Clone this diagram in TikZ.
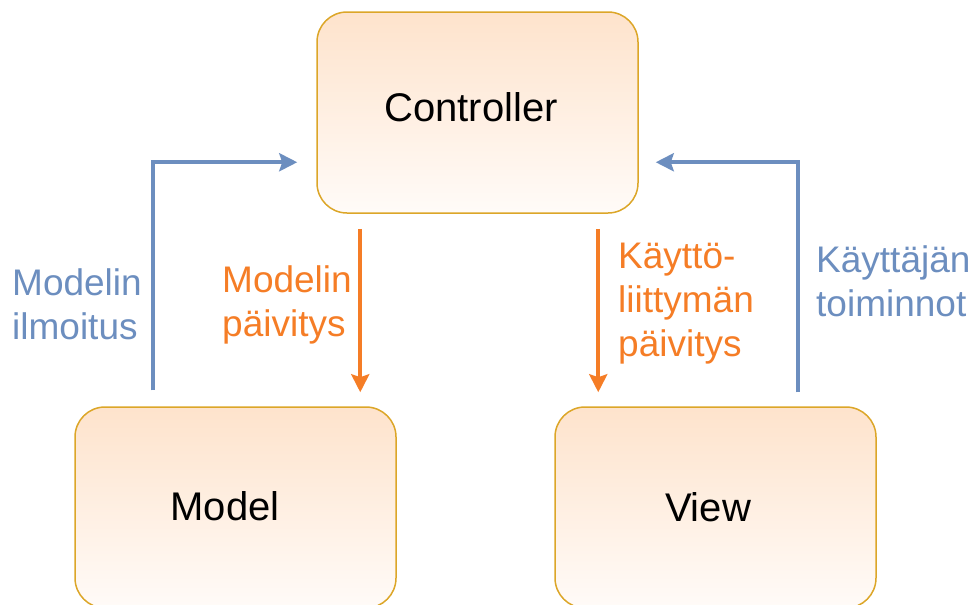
\documentclass[tikz,border=0pt]{standalone}
\usepackage{fontspec}
\setmainfont{Liberation Sans}
\usetikzlibrary{arrows.meta}
\definecolor{boxline}{RGB}{220,166,40}
\definecolor{boxtop}{RGB}{254,227,204}
\definecolor{boxbot}{RGB}{255,251,248}
\definecolor{flowblue}{RGB}{108,142,191}
\definecolor{floworange}{RGB}{245,125,38}
\begin{document}
\begin{tikzpicture}[x=1pt,y=1pt,
  box/.style={draw=boxline, line width=1.5pt, rounded corners=30pt,
    minimum width=321pt, minimum height=201pt,
    top color=boxtop, bottom color=boxbot, inner sep=0pt},
  boxtext/.style={font=\fontsize{40}{48}\selectfont, inner sep=0pt},
  lbl/.style={font=\fontsize{37}{44}\selectfont, align=left,
    anchor=north west, inner sep=0pt},
  flow/.style={line width=4pt, -{Stealth[length=18pt,width=18pt,inset=3pt]}},
  ]
\clip (0,0) rectangle (972,-605);

% the three components
\node[box] (ctrl)  at (477.5,-112.5) {};
\node[box] (model) at (235.5,-507.5) {};
\node[box] (view)  at (715.5,-507.5) {};
\node[boxtext] (ctrltext)  at (471,-107) {Controller};
\node[boxtext] (modeltext) at (225,-506) {Model};
\node[boxtext] (viewtext)  at (708,-507) {View};

% model notifies the controller
\draw[flow, flowblue, shorten <=16pt, shorten >=19pt]
  ([xshift=79pt]model.north west) |- ([yshift=-151pt]ctrl.north west);
% controller updates the model
\draw[flow, floworange, shorten <=15pt, shorten >=14pt]
  ([xshift=44pt]ctrl.south west) coordinate (mu) -- (mu |- model.north);
% controller updates the view
\draw[flow, floworange, shorten <=15pt, shorten >=14pt]
  ([xshift=44pt]view.north west |- ctrl.south) coordinate (vu) -- (vu |- view.north);
% user actions go from the view to the controller
\draw[flow, flowblue, shorten <=14pt, shorten >=17pt]
  ([xshift=-79pt]view.north east) |- ([yshift=-151pt]ctrl.north east);

% labels
\node[lbl, text=flowblue]   (lblnotify) at (12,-268)  {Modelin\\ilmoitus};
\node[lbl, text=floworange] (lblmupd)   at (222,-265) {Modelin\\päivitys};
\node[lbl, text=floworange] (lblvupd)   at (618,-243) {Käyttö-\\liittymän\\päivitys};
\node[lbl, text=flowblue]   (lbluser)   at (816,-245) {Käyttäjän\\toiminnot};
\end{tikzpicture}
\end{document}
